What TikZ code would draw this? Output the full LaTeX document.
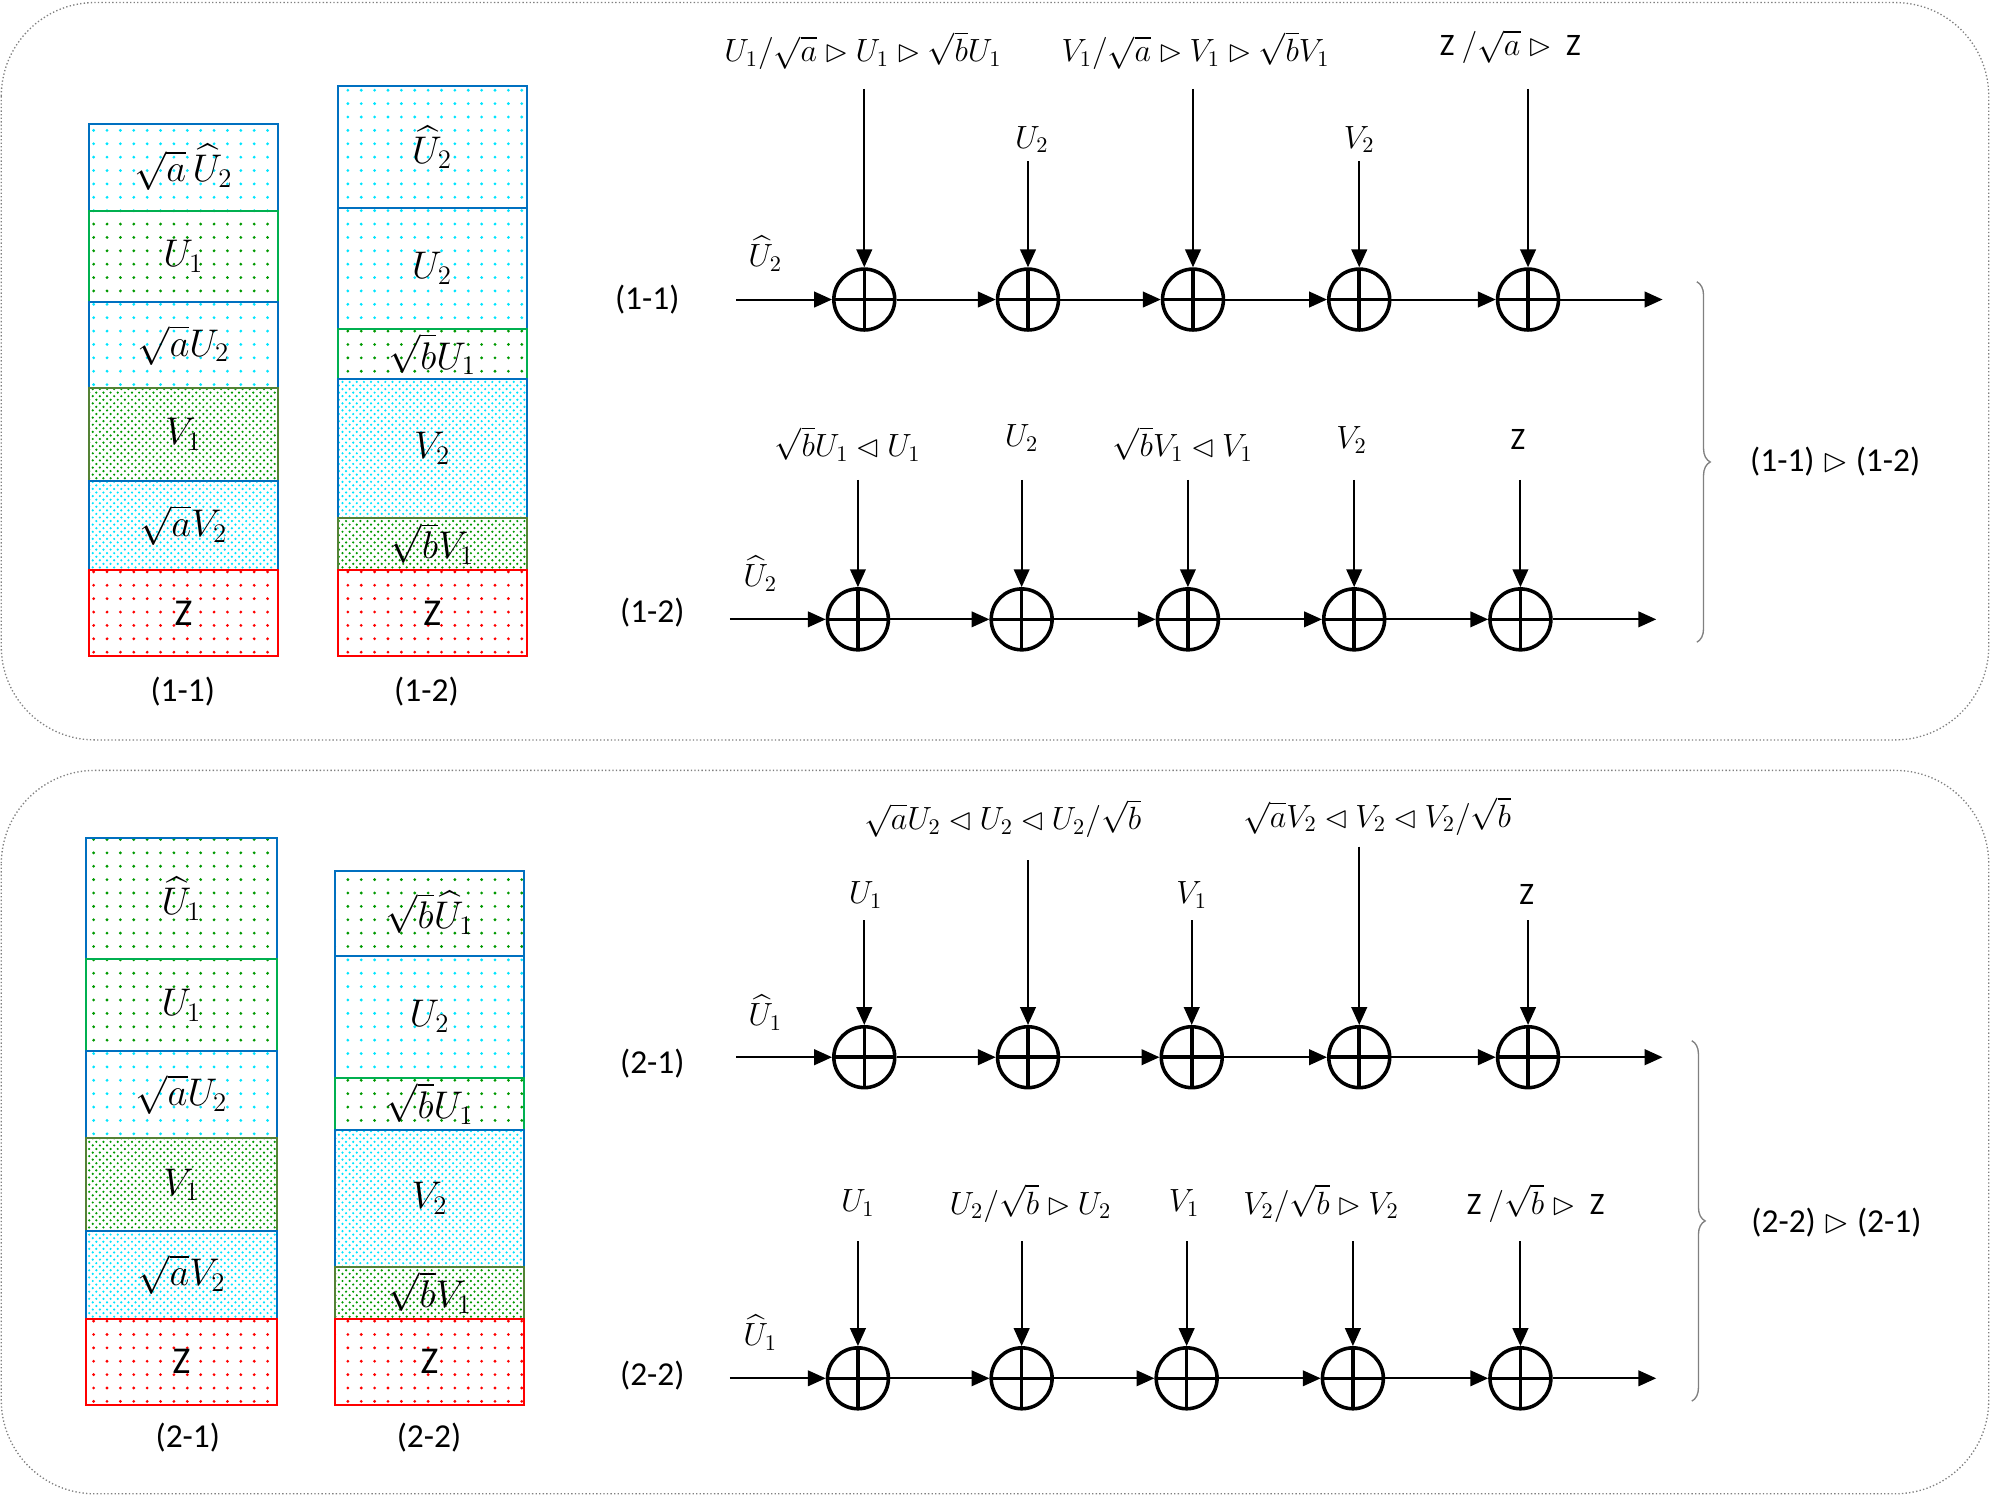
\documentclass[tikz,border=0pt]{standalone}
\usepackage{amssymb}
\usepackage{fontspec}
\setmainfont{Carlito}
\usetikzlibrary{patterns,arrows.meta,decorations.pathreplacing}
\pgfdeclarepatternformonly{sparsedots}{\pgfqpoint{-1pt}{-1pt}}{\pgfqpoint{1pt}{1pt}}{\pgfqpoint{6pt}{6pt}}{\pgfpathcircle{\pgfqpoint{0pt}{0pt}}{0.7pt}\pgfusepath{fill}}
\pgfdeclarepatternformonly{densedots}{\pgfqpoint{-1pt}{-1pt}}{\pgfqpoint{4pt}{4pt}}{\pgfqpoint{3.2pt}{3.2pt}}{\pgfpathcircle{\pgfqpoint{0pt}{0pt}}{0.55pt}\pgfusepath{fill}\pgfpathcircle{\pgfqpoint{1.6pt}{1.6pt}}{0.55pt}\pgfusepath{fill}}
\newcommand{\R}{\mathbin{\vartriangleright}}
\newcommand{\Lt}{\mathbin{\vartriangleleft}}
\newcommand{\mkbox}[7]{\node[#6,minimum width={0.02cm*(#3-#2)},minimum height={0.02cm*(#5-#4)}] (#1) at ({(#2+#3)/2},{-(#4+#5)/2}) {#7};}
\tikzset{
 x=0.02cm,y=0.02cm,
 bx/.style={draw,line width=0.9pt,inner sep=0pt,font=\fontsize{17}{20}\selectfont},
 bblue/.style={bx,draw={rgb,255:red,0;green,112;blue,192},pattern=sparsedots,pattern color=cyan!90!blue},
 bgreen/.style={bx,draw={rgb,255:red,0;green,176;blue,80},pattern=sparsedots,pattern color=green!60!black},
 bbg/.style={bx,draw={rgb,255:red,0;green,112;blue,192},pattern=sparsedots,pattern color=green!60!black},
 dblue/.style={bx,draw={rgb,255:red,0;green,112;blue,192},pattern=densedots,pattern color=cyan!90!blue},
 dgreen/.style={bx,draw={rgb,255:red,84;green,130;blue,53},pattern=densedots,pattern color=green!60!black},
 bred/.style={bx,draw=red,pattern=sparsedots,pattern color=red},
 panel/.style={draw=gray,densely dotted,rounded corners=42pt,line width=0.6pt},
 add/.style={circle,draw,line width=1.6pt,minimum size=0.96cm,inner sep=0pt,
   path picture={\draw[line width=1.6pt] (path picture bounding box.north)--(path picture bounding box.south) (path picture bounding box.west)--(path picture bounding box.east);}},
 ar/.style={line width=0.9pt,-{Triangle[length=8pt,width=7pt]}},
 lab/.style={font=\fontsize{14}{16}\selectfont},
 captxt/.style={font=\fontsize{15}{18}\selectfont},
}
\begin{document}
\begin{tikzpicture}
\useasboundingbox (0,0) rectangle (1568,-1178);
\draw[panel] (1,-2) rectangle (1567,-583);
\draw[panel] (1,-607) rectangle (1567,-1177);
% top-left stacks
\mkbox{a1}{70}{219}{98}{166}{bblue}{$\sqrt{a}\,\widehat{U}_2$}
\mkbox{a2}{70}{219}{166}{238}{bgreen}{$U_1$}
\mkbox{a3}{70}{219}{238}{306}{bblue}{$\sqrt{a}U_2$}
\mkbox{a4}{70}{219}{306}{379}{dgreen}{$V_1$}
\mkbox{a5}{70}{219}{379}{449}{dblue}{$\sqrt{a}V_2$}
\mkbox{a6}{70}{219}{449}{517}{bred}{Z}
\node[captxt] at (144,-545) {(1-1)};
\mkbox{b1}{266}{415}{68}{164}{bblue}{$\widehat{U}_2$}
\mkbox{b2}{266}{415}{164}{259}{bblue}{$U_2$}
\mkbox{b3}{266}{415}{259}{299}{bgreen}{$\sqrt{b}U_1$}
\mkbox{b4}{266}{415}{299}{408}{dblue}{$V_2$}
\mkbox{b5}{266}{415}{408}{449}{dgreen}{$\sqrt{b}V_1$}
\mkbox{b6}{266}{415}{449}{517}{bred}{Z}
\node[captxt] at (336,-545) {(1-2)};
% bottom-left stacks
\mkbox{c1}{68}{218}{660}{756}{bbg}{$\widehat{U}_1$}
\mkbox{c2}{68}{218}{756}{828}{bgreen}{$U_1$}
\mkbox{c3}{68}{218}{828}{897}{bblue}{$\sqrt{a}U_2$}
\mkbox{c4}{68}{218}{897}{970}{dgreen}{$V_1$}
\mkbox{c5}{68}{218}{970}{1039}{dblue}{$\sqrt{a}V_2$}
\mkbox{c6}{68}{218}{1039}{1107}{bred}{Z}
\node[captxt] at (148,-1133) {(2-1)};
\mkbox{d1}{264}{413}{686}{753}{bbg}{$\sqrt{b}\widehat{U}_1$}
\mkbox{d2}{264}{413}{753}{849}{bblue}{$U_2$}
\mkbox{d3}{264}{413}{849}{890}{bgreen}{$\sqrt{b}U_1$}
\mkbox{d4}{264}{413}{890}{998}{dblue}{$V_2$}
\mkbox{d5}{264}{413}{998}{1039}{dgreen}{$\sqrt{b}V_1$}
\mkbox{d6}{264}{413}{1039}{1107}{bred}{Z}
\node[captxt] at (338,-1133) {(2-2)};
% row 1-1
\foreach \n/\x in {1/681,2/810,3/940,4/1071,5/1204}{\node[add] (p\n) at (\x,-236) {};}
\coordinate (pin) at (580,-236); \coordinate (pout) at (1310,-236);
\draw[ar] (pin)--(p1); \draw[ar] (p1)--(p2); \draw[ar] (p2)--(p3); \draw[ar] (p3)--(p4); \draw[ar] (p4)--(p5); \draw[ar] (p5)--(pout);
\node[captxt] at (510,-236) {(1-1)};
\node[lab] at (603,-200) {$\widehat{U}_2$};
\node[lab] (t1) at (680,-40) {$U_1/\sqrt{a}\R U_1\R\sqrt{b}U_1$};
\node[lab] (t2) at (813,-110) {$U_2$};
\node[lab] (t3) at (942,-40) {$V_1/\sqrt{a}\R V_1\R\sqrt{b}V_1$};
\node[lab] (t4) at (1071,-110) {$V_2$};
\node[lab] (t5) at (1190,-37) {Z $/\sqrt{a}\R{}$ Z};
\coordinate (q1) at (681,-70); \coordinate (q2) at (810,-127); \coordinate (q3) at (940,-70); \coordinate (q4) at (1071,-127); \coordinate (q5) at (1204,-70);
\foreach \n in {1,...,5}{\draw[ar] (q\n)--(p\n);}
% row 1-2
\foreach \n/\x in {1/676,2/805,3/936,4/1067,5/1198}{\node[add] (r\n) at (\x,-488) {};}
\coordinate (rin) at (575,-488); \coordinate (rout) at (1305,-488);
\draw[ar] (rin)--(r1); \draw[ar] (r1)--(r2); \draw[ar] (r2)--(r3); \draw[ar] (r3)--(r4); \draw[ar] (r4)--(r5); \draw[ar] (r5)--(rout);
\node[captxt] at (514,-483) {(1-2)};
\node[lab] at (599,-452) {$\widehat{U}_2$};
\node[lab] at (668,-350) {$\sqrt{b}U_1\Lt U_1$};
\node[lab] at (805,-345) {$U_2$};
\node[lab] at (932,-350) {$\sqrt{b}V_1\Lt V_1$};
\node[lab] at (1065,-347) {$V_2$};
\node[lab] at (1196,-346) {Z};
\foreach \n/\x in {1/676,2/805,3/936,4/1067,5/1198}{\coordinate (s\n) at (\x,-378); \draw[ar] (s\n)--(r\n);}
\coordinate (br1a) at (1337,-222); \coordinate (br1b) at (1337,-506);
\draw[gray,line width=0.6pt,decorate,decoration={brace,amplitude=6pt}] (br1a)--(br1b);
\node[captxt] at (1446,-364) {(1-1) $\R$ (1-2)};
% row 2-1
\foreach \n/\x in {1/681,2/810,3/939,4/1071,5/1204}{\node[add] (u\n) at (\x,-833) {};}
\coordinate (uin) at (580,-833); \coordinate (uout) at (1310,-833);
\draw[ar] (uin)--(u1); \draw[ar] (u1)--(u2); \draw[ar] (u2)--(u3); \draw[ar] (u3)--(u4); \draw[ar] (u4)--(u5); \draw[ar] (u5)--(uout);
\node[captxt] at (514,-838) {(2-1)};
\node[lab] at (603,-798) {$\widehat{U}_1$};
\node[lab] at (682,-705) {$U_1$};
\node[lab] at (790,-645) {$\sqrt{a}U_2\Lt U_2\Lt U_2/\sqrt{b}$};
\node[lab] at (939,-705) {$V_1$};
\node[lab] at (1085,-643) {$\sqrt{a}V_2\Lt V_2\Lt V_2/\sqrt{b}$};
\node[lab] at (1203,-705) {Z};
\coordinate (v1) at (681,-725); \coordinate (v2) at (810,-678); \coordinate (v3) at (939,-725); \coordinate (v4) at (1071,-667); \coordinate (v5) at (1204,-725);
\foreach \n in {1,...,5}{\draw[ar] (v\n)--(u\n);}
% row 2-2
\foreach \n/\x in {1/676,2/805,3/935,4/1066,5/1198}{\node[add] (w\n) at (\x,-1086) {};}
\coordinate (win) at (575,-1086); \coordinate (wout) at (1305,-1086);
\draw[ar] (win)--(w1); \draw[ar] (w1)--(w2); \draw[ar] (w2)--(w3); \draw[ar] (w3)--(w4); \draw[ar] (w4)--(w5); \draw[ar] (w5)--(wout);
\node[captxt] at (514,-1084) {(2-2)};
\node[lab] at (599,-1050) {$\widehat{U}_1$};
\node[lab] at (676,-948) {$U_1$};
\node[lab] at (812,-948) {$U_2/\sqrt{b}\R U_2$};
\node[lab] at (933,-948) {$V_1$};
\node[lab] at (1041,-948) {$V_2/\sqrt{b}\R V_2$};
\node[lab] at (1210,-948) {Z $/\sqrt{b}\R{}$ Z};
\foreach \n/\x in {1/676,2/805,3/935,4/1066,5/1198}{\coordinate (x\n) at (\x,-978); \draw[ar] (x\n)--(w\n);}
\coordinate (br2a) at (1333,-820); \coordinate (br2b) at (1333,-1104);
\draw[gray,line width=0.6pt,decorate,decoration={brace,amplitude=6pt}] (br2a)--(br2b);
\node[captxt] at (1447,-963) {(2-2) $\R$ (2-1)};
\end{tikzpicture}
\end{document}
